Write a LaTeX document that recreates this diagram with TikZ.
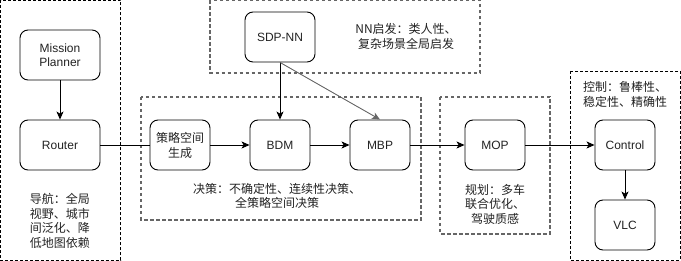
\documentclass[tikz,border=0pt]{standalone}
\usepackage{fontspec}
\setmainfont{Liberation Sans}
\newfontfamily\cjk{Noto Sans CJK SC}
\usetikzlibrary{arrows.meta}
\definecolor{txt}{HTML}{222222}
\definecolor{grp}{HTML}{666666}
\begin{document}
\begin{tikzpicture}[x=1pt,y=-1pt,
  font=\fontsize{12}{14.5}\selectfont,
  blk/.style={draw=black,line width=0.9pt,rounded corners=8pt,text=txt,
    minimum height=50pt,align=center,inner sep=0pt},
  note/.style={text=txt,align=center,inner sep=0pt,font=\fontsize{12}{14.5}\selectfont\cjk},
  grayzone/.style={draw=grp,line width=1.1pt,dash pattern=on 3.5pt off 2.5pt},
  blackzone/.style={draw=black,line width=0.8pt,dash pattern=on 3pt off 2pt},
  link/.style={draw=black,line width=0.9pt},
  arr/.style={link,-{Stealth[length=8pt,width=7pt,inset=2pt]}}
]
\useasboundingbox (0,0) rectangle (681,261);

% groups
\draw[blackzone] (0.5,0.5) rectangle (120.5,260.5);
\draw[grayzone] (210,0.5) rectangle (480,73);
\draw[grayzone] (141,97) rectangle (421,220);
\draw[grayzone] (440,97) rectangle (550,234);
\draw[blackzone] (570,71) rectangle (680,260);

% modules
\node[blk,minimum width=80pt] (mp) at (60,55) {Mission\\Planner};
\node[blk,minimum width=80pt] (router) at (60,145) {Router};
\node[blk,minimum width=70pt] (sdp) at (280,37) {SDP-NN};
\node[blk,minimum width=60pt,font=\fontsize{12}{15}\selectfont\cjk] (gen) at (180,145) {策略空间\\生成};
\node[blk,minimum width=60pt] (bdm) at (280,145) {BDM};
\node[blk,minimum width=60pt] (mbp) at (380,145) {MBP};
\node[blk,minimum width=60pt] (mop) at (495,145) {MOP};
\node[blk,minimum width=60pt] (ctrl) at (625,145) {Control};
\node[blk,minimum width=60pt] (vlc) at (625,225) {VLC};

% notes
\node[note] (navnote) at (60,221) {导航：全局\\视野、城市\\间泛化、降\\低地图依赖};
\node[note] (nnnote) at (406,36.5) {NN启发：类人性、\\复杂场景全局启发};
\node[note] (decnote) at (277,196) {决策：不确定性、连续性决策、\\全策略空间决策};
\node[note] (plannote) at (495,204) {规划：多车\\联合优化、\\驾驶质感};
\node[note] (ctrlnote) at (625,94.5) {控制：鲁棒性、\\稳定性、精确性};

% connectors
\draw[arr] (mp) -- (router);
\draw[link] (router) -- (gen);
\draw[arr] (gen) -- (bdm);
\draw[arr] (bdm) -- (mbp);
\draw[arr] (sdp.south) -- (bdm.north);
\draw[arr,draw=grp] (sdp.south) -- (mbp.north);
\draw[arr] (mbp) -- (mop);
\draw[arr] (mop) -- (ctrl);
\draw[arr] (ctrl) -- (vlc);
\end{tikzpicture}
\end{document}
